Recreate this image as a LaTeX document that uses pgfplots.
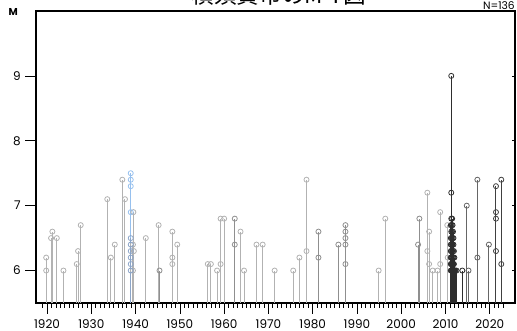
\documentclass[border=0pt]{standalone}
\usepackage{pgfplots}
\pgfplotsset{compat=1.18}
\usepackage{fontspec}
\setmainfont{Poppins}
\newfontfamily\cjk{Noto Sans CJK JP}
\definecolor{cA}{gray}{0.70}
\definecolor{cB}{gray}{0.56}
\definecolor{cC}{gray}{0.18}
\definecolor{cD}{gray}{0.40}
\definecolor{cE}{gray}{0.25}
\definecolor{cBlue}{RGB}{150,192,238}
\definecolor{cBlueD}{RGB}{140,165,200}
\begin{document}
\begin{tikzpicture}
\begin{axis}[
  scale only axis, width=359.25pt, height=219pt,
  xmin=1917.5, xmax=2025.7, ymin=5.5, ymax=10,
  axis line style={line width=0.9pt},
  xtick={1920,1930,...,2020},
  minor xtick={1919,...,2023},
  ytick={6,7,8,9},
  xtick pos=bottom, ytick pos=left,
  tick align=outside,
  major tick length=8pt,
  minor tick length=3.75pt,
  tick style={black, line width=0.5pt},
  /pgf/number format/assume math mode=true,
  /pgf/number format/1000 sep={},
  ticklabel style={font=\fontsize{9}{9}\selectfont},
  xticklabel style={yshift=-1pt},
  every axis plot/.append style={ycomb, line width=0.75pt, mark=o, mark size=1.9pt, mark options={line width=0.6pt}},
]
% light group
\addplot[cA] table {
1919.8 6.2
1919.8 6.0
1920.9 6.5
1921.2 6.6
1922.2 6.5
1923.7 6.0
1926.7 6.1
1927.0 6.3
1927.6 6.7
1933.6 7.1
1934.4 6.2
1935.3 6.4
1937.0 7.4
1937.6 7.1
1939.5 6.9
1939.4 6.4
1939.6 6.3
1939.4 6.0
1942.3 6.5
1945.2 6.7
1948.3 6.6
1948.3 6.2
1948.3 6.1
1949.4 6.4
1956.3 6.1
1957.0 6.1
1958.4 6.0
1959.2 6.8
1959.2 6.1
1960.0 6.8
1963.7 6.6
1964.5 6.0
1967.3 6.4
1968.7 6.4
1971.4 6.0
1975.6 6.0
1977.0 6.2
1978.6 7.4
1978.6 6.3
1994.9 6.0
1996.4 6.8
2005.9 7.2
2005.9 6.3
2006.3 6.6
2006.3 6.1
2007.1 6.0
2008.2 6.0
2008.8 6.9
2008.8 6.1
2010.4 6.7
2010.5 6.2
};
% medium group
\addplot[cB] table {
1945.4 6.0
1962.4 6.8
1962.4 6.4
1981.3 6.6
1981.3 6.2
1985.8 6.4
1987.4 6.7
1987.4 6.6
1987.4 6.5
1987.4 6.4
1987.4 6.1
2003.8 6.4
2004.1 6.8
};
% blue 1939
\addplot[cBlue] table {
1938.9 7.5
1938.9 7.4
1938.9 7.3
1938.9 6.9
};
\addplot[cBlueD] table {
1938.9 6.5
1938.9 6.4
1938.9 6.3
1938.9 6.2
1938.9 6.1
1938.9 6.0
};
% 2011 cluster
\addplot[cC] table {
2011.3 9.0
2011.3 7.2
2011.3 6.8
2011.5 6.8
2011.2 6.7
2011.4 6.7
2011.6 6.7
2011.3 6.6
2011.5 6.6
2011.7 6.6
2011.2 6.5
2011.4 6.5
2011.6 6.5
2011.8 6.5
2011.2 6.4
2011.3 6.4
2011.5 6.4
2011.6 6.4
2011.8 6.4
2011.2 6.3
2011.3 6.3
2011.5 6.3
2011.7 6.3
2011.9 6.3
2011.2 6.2
2011.3 6.2
2011.4 6.2
2011.6 6.2
2011.8 6.2
2012.0 6.2
2011.2 6.1
2011.3 6.1
2011.4 6.1
2011.5 6.1
2011.6 6.1
2011.7 6.1
2011.8 6.1
2011.9 6.1
2011.2 6.0
2011.3 6.0
2011.4 6.0
2011.5 6.0
2011.6 6.0
2011.7 6.0
2011.8 6.0
2011.9 6.0
2012.0 6.0
2012.1 6.0
2012.2 6.0
2012.5 6.0
2013.8 6.0
};
% recent
\addplot[cD] table {
2014.8 7.0
2015.2 6.0
2017.2 7.4
2017.2 6.2
2019.8 6.4
};
\addplot[cE] table {
2021.4 7.3
2021.4 6.9
2021.4 6.8
2021.4 6.3
2022.6 7.4
2022.6 6.1
};
\coordinate (bl) at (rel axis cs:0,0);
\coordinate (br) at (rel axis cs:1,0);
\coordinate (tl) at (rel axis cs:0,1);
\coordinate (tr) at (rel axis cs:1,1);
\coordinate (tt) at (rel axis cs:0.507,1);
\end{axis}
\foreach \f in {0.1111,0.3333,0.5556,0.7778}{
  \draw[line width=0.5pt] ([yshift=\f*219pt]br) -- ++(-2pt,0);
}
\node[anchor=base, font=\cjk\fontsize{17}{17}\selectfont, inner sep=0pt] at ([yshift=5.5pt]tt) {横須賀市のM-T図};
\node[anchor=base east, font=\fontsize{8}{8}\selectfont, inner sep=0pt] at ([yshift=1pt]tr) {N=136};
\node[font=\bfseries\fontsize{7.5}{7.5}\selectfont, inner sep=0pt] at ([xshift=-17pt,yshift=-0.5pt]tl) {M};
\pgfresetboundingbox
\path[use as bounding box] ([xshift=-27pt,yshift=-21pt]bl) rectangle ([xshift=1.5pt,yshift=8.25pt]tr);
\end{tikzpicture}
\end{document}
